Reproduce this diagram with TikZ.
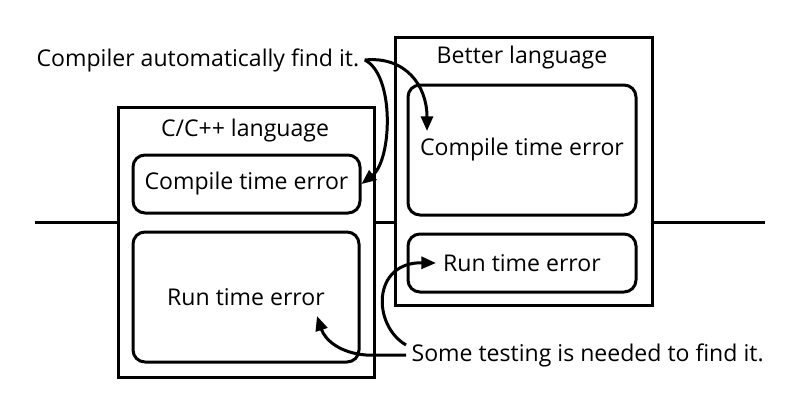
\documentclass[tikz,border=0pt]{standalone}
\usepackage{fontspec}
\setmainfont{Open Sans}
\usetikzlibrary{arrows.meta,calc}

\begin{document}
\begin{tikzpicture}[x=0.75pt,y=0.75pt,yscale=-1,
  every node/.style={font=\fontsize{17.3}{20}\selectfont},
  langbox/.style={draw,line width=2.25pt,fill=white,inner sep=0pt},
  errbox/.style={draw,line width=2.25pt,fill=white,rounded corners=9pt,inner sep=0pt},
  note/.style={inner sep=4pt},
  pointer/.style={line width=2.25pt,-{Triangle[length=11pt,width=9pt]}}]
\useasboundingbox (0,0) rectangle (800,415);

%Straight Lines: the dividing line
\coordinate (lineL) at (35,222);
\coordinate (lineR) at (765,222);
\draw [line width=2.25pt] (lineL) -- (lineR);

%Shape: C/C++ box
\node [langbox, minimum width=192pt, minimum height=202.5pt] (cbox) at (246,242) {};
\node (ctitle) at (245,131) {C/C++ language};
\node [errbox, minimum width=170.25pt, minimum height=43.5pt] (ccompile) at (246.5,184) {Compile time error};
\node [errbox, minimum width=169.5pt, minimum height=97.5pt] (crun) at (246,297) {Run time error};

%Shape: Better language box
\node [langbox, minimum width=192.75pt, minimum height=201pt] (bbox) at (523.5,171) {};
\node (btitle) at (522,58) {Better language};
\node [errbox, minimum width=171pt, minimum height=97.5pt] (bcompile) at (522,150) {Compile time error};
\node [errbox, minimum width=171pt, minimum height=43.5pt] (brun) at (522,263) {Run time error};

% Text Node
\node [note, anchor=west] (compnote) at (31,60) {Compiler automatically find it.};
% Text Node
\node [note, anchor=west] (testnote) at (406,355) {Some testing is needed to find it.};

%Curved arrows
\draw [pointer] (compnote.east) .. controls (405,56) and (427,85) .. ($(bcompile.center)+(-95,-19)$);
\draw [pointer] (compnote.east) .. controls (395,75) and (392,160) .. (ccompile.east);
\draw [pointer] ($(testnote.west)+(0,-10)$) .. controls (372,325) and (372,262) .. ($(brun.center)+(-86,0)$);
\draw [pointer] (testnote.west) -- ++(-40,0) .. controls (340,353) and (325,340) .. ($(crun.center)+(71,19)$);

\end{tikzpicture}
\end{document}
